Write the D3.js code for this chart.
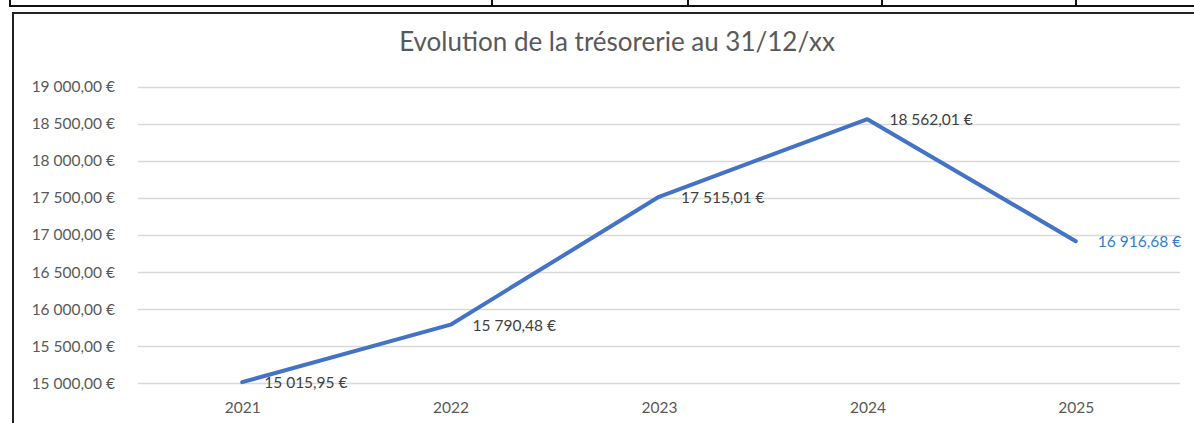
<!DOCTYPE html>
<html><head><meta charset="utf-8">
<script src="https://cdn.jsdelivr.net/npm/d3@7"></script>
<style>html,body{margin:0;padding:0;background:#fff;}svg{display:block;}</style>
</head><body>
<script>
const years = ["2021","2022","2023","2024","2025"];
const values = [15015.95, 15790.48, 17515.01, 18562.01, 16916.68];
const yTicks = [15000,15500,16000,16500,17000,17500,18000,18500,19000];
const title = "Evolution de la trésorerie au 31/12/xx";
const tableCols = [10, 492, 688, 882, 1076];

const W = 1194, H = 423;
const svg = d3.select("body").append("svg").attr("width", W).attr("height", H);
const font = "Lato, 'Open Sans', sans-serif";

// Table fragment at top
const tg = svg.append("g");
tg.append("line").attr("x1", 9).attr("x2", W).attr("y1", 6).attr("y2", 6).attr("stroke", "#111").attr("stroke-width", 2);
tableCols.forEach(x => tg.append("line").attr("x1", x).attr("x2", x).attr("y1", 0).attr("y2", 6).attr("stroke", "#111").attr("stroke-width", 2));

// chart border
svg.append("line").attr("x1", 12).attr("x2", W).attr("y1", 13).attr("y2", 13).attr("stroke", "#222").attr("stroke-width", 2);
svg.append("line").attr("x1", 13).attr("x2", 13).attr("y1", 12).attr("y2", H).attr("stroke", "#222").attr("stroke-width", 2);

const locale = d3.formatLocale({decimal: ",", thousands: "\u00a0", grouping: [3], currency: ["", "\u00a0€"]});
const fmt = locale.format("$,.2f");

const x = d3.scalePoint().domain(years).range([138, 1180]).padding(0.5);
const y = d3.scaleLinear().domain([15000, 19000]).range([383.3, 86.7]);

// gridlines
svg.append("g").selectAll("line").data(yTicks).join("line")
  .attr("x1", 138).attr("x2", 1180)
  .attr("y1", d => Math.round(y(d)) + 0.5).attr("y2", d => Math.round(y(d)) + 0.5)
  .attr("stroke", "#d9d9d9").attr("stroke-width", 1.3);

// y axis labels
const yAxis = d3.axisLeft(y).tickValues(yTicks).tickFormat(fmt).tickSize(0).tickPadding(0);
const ya = svg.append("g").attr("transform", "translate(115,0)").call(yAxis);
ya.select(".domain").remove();
ya.selectAll("text").attr("font-family", font).attr("font-size", 15.5).attr("fill", "#595959");

// x axis labels
const xAxis = d3.axisBottom(x).tickSize(0).tickPadding(0);
const xa = svg.append("g").attr("transform", "translate(0,402)").call(xAxis);
xa.select(".domain").remove();
xa.selectAll("text").attr("font-family", font).attr("font-size", 15.5).attr("fill", "#595959");

// title
svg.append("text").attr("x", 617).attr("y", 51).attr("text-anchor", "middle")
  .attr("font-family", font).attr("font-size", 26).attr("fill", "#595959").text(title);

// line
const data = years.map((yr, i) => ({yr, v: values[i]}));
svg.append("path").datum(data)
  .attr("d", d3.line().x(d => x(d.yr)).y(d => y(d.v)))
  .attr("fill", "none").attr("stroke", "#4472c4").attr("stroke-width", 4).attr("stroke-linejoin", "round").attr("stroke-linecap", "round");

// data labels
svg.append("g").selectAll("text").data(data).join("text")
  .attr("x", d => x(d.yr) + 22).attr("y", d => y(d.v) + 6)
  .attr("font-family", font).attr("font-size", 15.5)
  .attr("fill", (d, i) => i === data.length - 1 ? "#2e7fd0" : "#404040")
  .text(d => fmt(d.v));
</script>
</body></html>
